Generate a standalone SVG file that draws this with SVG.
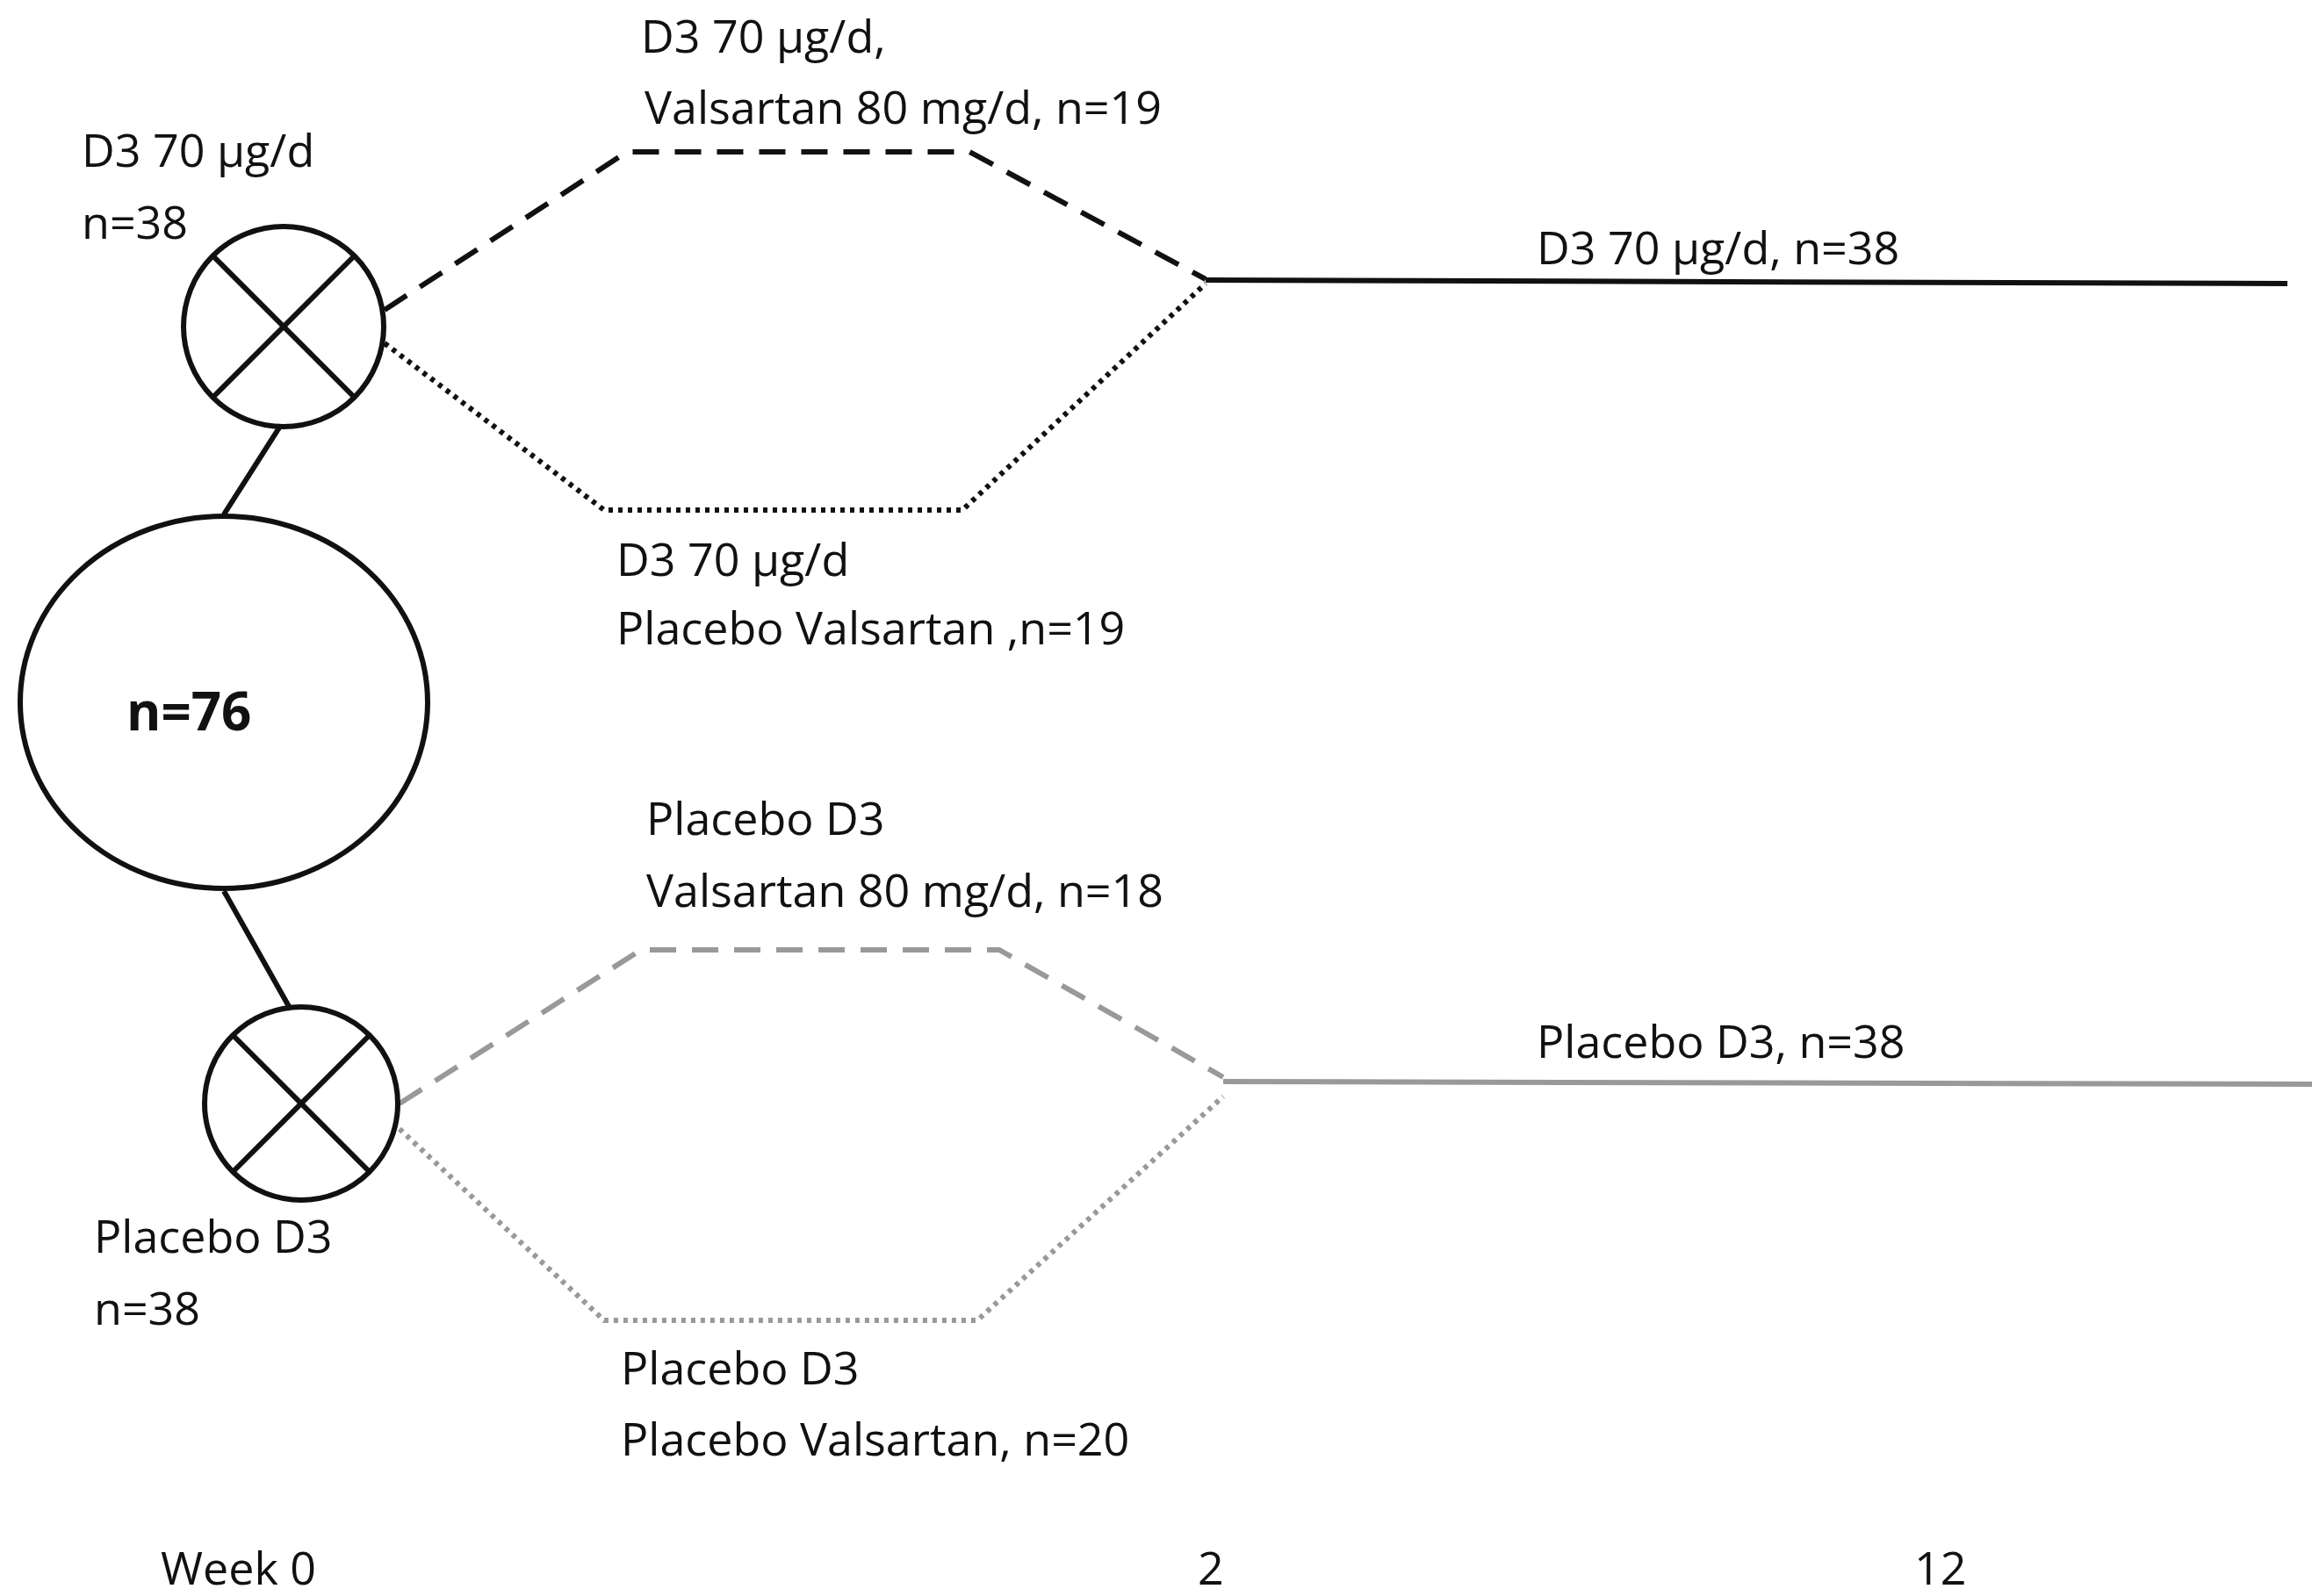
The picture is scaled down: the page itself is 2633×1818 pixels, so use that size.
<svg xmlns="http://www.w3.org/2000/svg" width="2633" height="1818" viewBox="0 0 2633 1818">
<style>
text{font-family:"Open Sans","Liberation Sans",sans-serif;font-size:52px;fill:#111}
.b{stroke:#111;stroke-width:6;fill:none}
.g{stroke:#999;stroke-width:6;fill:none}
.dash{stroke-dasharray:30 18}
.dot{stroke-dasharray:5 6}
</style>
<rect width="2633" height="1818" fill="#fff"/>
<g id="connectors">
<line class="b" x1="255" y1="586" x2="320" y2="484"/>
<line class="b" x1="255" y1="1015" x2="331" y2="1150"/>
<polyline class="b dash" points="438,353 714,173 1104,173 1373,318"/>
<polyline class="b dot" points="438,391 688,581 1096,581 1373,323"/>
<line class="b" x1="1373" y1="319" x2="2605" y2="323"/>
<polyline class="g dash" points="455,1257 730,1082 1138,1082 1393,1227"/>
<polyline class="g dot" points="455,1286 688,1504 1113,1504 1393,1249"/>
<line class="g" x1="1393" y1="1232" x2="2633" y2="1235"/>
</g>
<g id="total"><ellipse class="b" cx="255" cy="800" rx="232" ry="212"/><text x="144" y="832" font-weight="bold" style="font-size:60px">n=76</text></g>
<g id="top-node"><circle class="b" cx="323" cy="372" r="114"/><line class="b" x1="242" y1="291" x2="404" y2="453"/><line class="b" x1="404" y1="291" x2="242" y2="453"/></g>
<g id="bottom-node"><circle class="b" cx="343" cy="1257" r="110"/><line class="b" x1="265" y1="1179" x2="421" y2="1335"/><line class="b" x1="421" y1="1179" x2="265" y2="1335"/></g>
<g id="labels">
<text x="730" y="60">D3 70 µg/d,</text>
<text x="734" y="141">Valsartan 80 mg/d, n=19</text>
<text x="93" y="190">D3 70 µg/d</text>
<text x="93" y="272">n=38</text>
<text x="1750" y="301">D3 70 µg/d, n=38</text>
<text x="702" y="656">D3 70 µg/d</text>
<text x="702" y="734">Placebo Valsartan ,n=19</text>
<text x="736" y="951">Placebo D3</text>
<text x="736" y="1033">Valsartan 80 mg/d, n=18</text>
<text x="1750" y="1205">Placebo D3, n=38</text>
<text x="107" y="1427">Placebo D3</text>
<text x="107" y="1509">n=38</text>
<text x="707" y="1577">Placebo D3</text>
<text x="707" y="1658">Placebo Valsartan, n=20</text>
<text x="183" y="1805">Week 0</text>
<text x="1364" y="1805">2</text>
<text x="2180" y="1805">12</text>
</g>
</svg>
